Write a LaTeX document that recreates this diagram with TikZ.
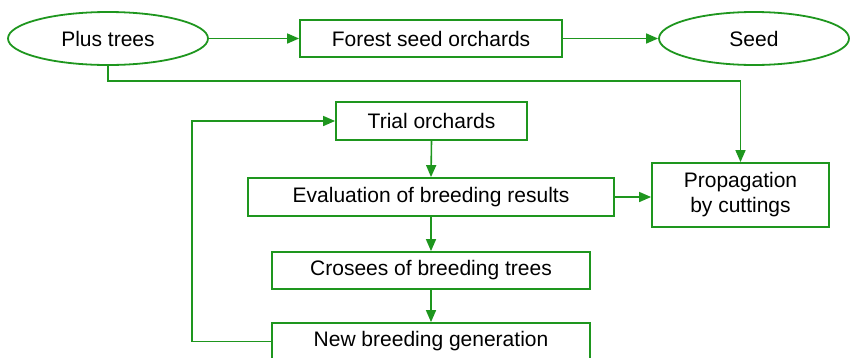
\documentclass[tikz,border=0pt]{standalone}
\usepackage{fontspec}
\setmainfont{Liberation Sans}
\usepackage{xcolor}
\usepackage{tikz}
\usetikzlibrary{shapes.geometric, arrows.meta}
\definecolor{leafgreen}{RGB}{30,150,30}
\tikzstyle{box} = [rectangle, draw=leafgreen, line width=1.8pt, align=center, inner sep=0pt]
\tikzstyle{oval} = [ellipse, draw=leafgreen, line width=1.8pt, inner sep=0pt]
\tikzstyle{arrow} = [leafgreen, line width=1.6pt, -{Triangle[length=12pt,width=10pt]}]

\begin{document}
\begin{tikzpicture}[x=1pt,y=-1pt,font=\fontsize{21}{25}\selectfont]
	\useasboundingbox (0,0) rectangle (851,357);
	% Top row:
	% Two ovals with the seed orchard box between them
	\node [oval, minimum width=200pt, minimum height=53pt] (plus) at (108,38.5) {Plus trees};
	\node [box, minimum width=262pt, minimum height=37pt] (forest) at (431,38.5) {Forest seed orchards};
	\node [oval, minimum width=190pt, minimum height=53pt] (seed) at (754,38.5) {Seed};
	
	% Breeding cycle:
	% Boxes stacked on the same centre line
	\node [box, minimum width=191pt, minimum height=38pt] (trial) at (431.5,121) {Trial orchards};
	\node [box, minimum width=366pt, minimum height=38pt] (eval) at (431,197) {Evaluation of breeding results};
	\node [box, minimum width=318pt, minimum height=37pt] (cross) at (431,270.5) {Crosees of breeding trees};
	\node [box, minimum width=318pt, minimum height=37pt] (newgen) at (431,341.5) {New breeding generation};
	\node [box, minimum width=177pt, minimum height=64pt] (prop) at (740.5,195) {Propagation\\by cuttings};
	
	% Connectors:
	\coordinate (bend) at (740.5,81);
	\coordinate (loop) at (192,121);
	\draw [arrow] (plus.east) -- (forest.west);
	\draw [arrow] (forest.east) -- (seed.west);
	\draw [arrow] (plus.south) |- (bend) -- (prop.north);
	\draw [arrow] (trial.south) -- (eval.north);
	\draw [arrow] (eval.east) -- (eval.east -| prop.west);
	\draw [arrow] (eval.south) -- (cross.north);
	\draw [arrow] (cross.south) -- (newgen.north);
	\draw [arrow] (newgen.west) -| (loop) -- (trial.west);
\end{tikzpicture}
\end{document}
